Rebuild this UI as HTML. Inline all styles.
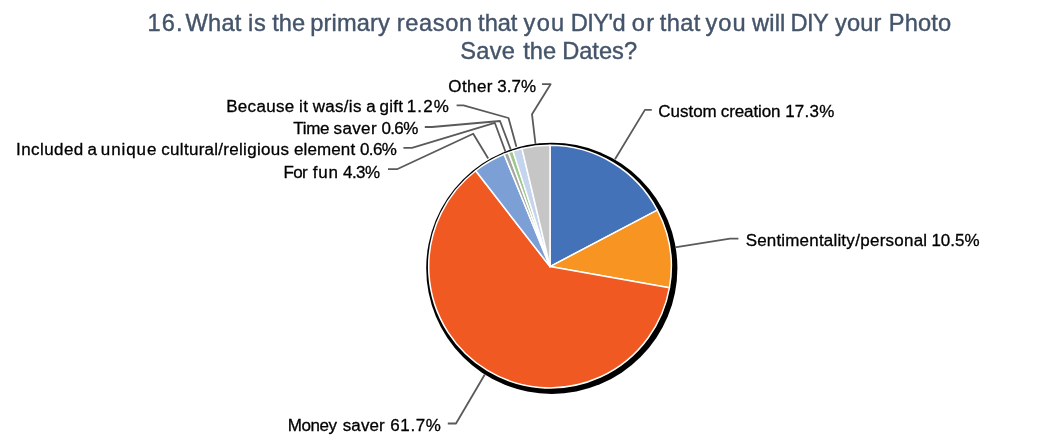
<!DOCTYPE html>
<html><head><meta charset="utf-8"><title>Chart</title>
<style>
html,body{margin:0;padding:0;background:#fff;}
body{width:1048px;height:444px;overflow:hidden;position:relative;}
svg{position:absolute;left:0;top:0;display:block;}
text{font-family:"Liberation Sans",sans-serif;}
.t{font-size:23.66px;fill:#44546a;stroke:#44546a;stroke-width:0.4px;}
.l{font-size:17px;fill:#000;stroke:#000;stroke-width:0.3px;}
.ld{fill:none;stroke:#5a5a5a;stroke-width:1.8;stroke-linejoin:round;}
</style></head><body>
<svg width="1048" height="444" viewBox="0 0 1048 444">
<rect width="1048" height="444" fill="#fff"/>
<text class="t" transform="translate(0,30.9) scale(1,1.035)"><tspan x="147.40" letter-spacing="1.200">16.</tspan> <tspan x="185.53" letter-spacing="0.215">What</tspan> <tspan x="248.12" letter-spacing="0.739">is</tspan> <tspan x="272.23" letter-spacing="0.034">the</tspan> <tspan x="310.23" letter-spacing="0.148">primary</tspan> <tspan x="396.70" letter-spacing="0.650">reason</tspan> <tspan x="478.13" letter-spacing="-0.048">that</tspan> <tspan x="523.63" letter-spacing="1.200">you</tspan> <tspan x="570.66" letter-spacing="-0.536">DIY'd</tspan> <tspan x="631.87" letter-spacing="1.114">or</tspan> <tspan x="659.73" letter-spacing="0.385">that</tspan> <tspan x="705.63" letter-spacing="0.917">you</tspan> <tspan x="751.99" letter-spacing="0.179">will</tspan> <tspan x="790.56" letter-spacing="-0.600">DIY</tspan> <tspan x="835.13" letter-spacing="0.118">your</tspan> <tspan x="888.76" letter-spacing="0.170">Photo</tspan></text>
<text class="t" transform="translate(0,59.4) scale(1,1.035)"><tspan x="460.37" letter-spacing="0.242">Save</tspan> <tspan x="523.13" letter-spacing="0.034">the</tspan> <tspan x="562.16" letter-spacing="-0.005">Dates?</tspan></text>
<circle cx="551.8" cy="268.3" r="125.6" fill="#000"/>
<path d="M550.0 266.6L550.00 145.30A121.3 121.3 0 0 1 657.32 210.07Z" fill="#4472b8" stroke="#fff" stroke-width="1.5" stroke-linejoin="round"/>
<path d="M550.0 266.6L657.32 210.07A121.3 121.3 0 0 1 669.46 287.66Z" fill="#f79422" stroke="#fff" stroke-width="1.5" stroke-linejoin="round"/>
<path d="M550.0 266.6L669.46 287.66A121.3 121.3 0 1 1 475.69 170.73Z" fill="#f05a22" stroke="#fff" stroke-width="1.5" stroke-linejoin="round"/>
<path d="M550.0 266.6L475.69 170.73A121.3 121.3 0 0 1 504.12 154.31Z" fill="#7c9fd6" stroke="#fff" stroke-width="1.5" stroke-linejoin="round"/>
<path d="M550.0 266.6L504.12 154.31A121.3 121.3 0 0 1 508.51 152.62Z" fill="#a5a5a5" stroke="#fff" stroke-width="1.5" stroke-linejoin="round"/>
<path d="M550.0 266.6L508.51 152.62A121.3 121.3 0 0 1 512.96 151.09Z" fill="#9cc88a" stroke="#fff" stroke-width="1.5" stroke-linejoin="round"/>
<path d="M550.0 266.6L512.96 151.09A121.3 121.3 0 0 1 522.03 148.57Z" fill="#c5d5ee" stroke="#fff" stroke-width="1.5" stroke-linejoin="round"/>
<path d="M550.0 266.6L522.03 148.57A121.3 121.3 0 0 1 550.00 145.30Z" fill="#c6c6c6" stroke="#fff" stroke-width="1.5" stroke-linejoin="round"/>
<polyline class="ld" points="542,84.2 550.6,84.2 532,114.3 535.5,144"/>
<polyline class="ld" points="456.6,105.4 463.5,105.4 508.5,118 516.4,146.8"/>
<polyline class="ld" points="424.8,127 432,127 500,121 510.8,149.8"/>
<polyline class="ld" points="403.4,147.9 412,147.9 494.8,122.8 505.5,151.8"/>
<polyline class="ld" points="388,169.2 397,169.2 473.2,133.8 488.2,158.5"/>
<polyline class="ld" points="615,159.2 644.9,109.9 651.8,109.9"/>
<polyline class="ld" points="675,247.3 730,238.7 738.4,238.7"/>
<polyline class="ld" points="447.8,423.5 456,423.5 484.8,374.5"/>
<text class="l" transform="translate(0,91.5) scale(1,1.015)"><tspan x="448.34" letter-spacing="0.405">Other</tspan> <tspan x="497.35" letter-spacing="0.004">3.7%</tspan></text>
<text class="l" transform="translate(0,111.8) scale(1,1.015)"><tspan x="226.20" letter-spacing="0.319">Because</tspan> <tspan x="299.04" letter-spacing="0.490">it</tspan> <tspan x="312.80" letter-spacing="0.284">was/is</tspan> <tspan x="366.14" letter-spacing="0.000">a</tspan> <tspan x="379.55" letter-spacing="0.252">gift</tspan> <tspan x="406.69" letter-spacing="1.193">1.2%</tspan></text>
<text class="l" transform="translate(0,134.2) scale(1,1.015)"><tspan x="293.31" letter-spacing="-0.333">Time</tspan> <tspan x="333.60" letter-spacing="0.358">saver</tspan> <tspan x="381.38" letter-spacing="-0.600">0.6%</tspan></text>
<text class="l" transform="translate(0,155.1) scale(1,1.015)"><tspan x="16.03" letter-spacing="0.429">Included</tspan> <tspan x="87.44" letter-spacing="0.000">a</tspan> <tspan x="100.87" letter-spacing="0.906">unique</tspan> <tspan x="161.35" letter-spacing="0.285">cultural/religious</tspan> <tspan x="294.05" letter-spacing="0.114">element</tspan> <tspan x="359.98" letter-spacing="-0.600">0.6%</tspan></text>
<text class="l" transform="translate(0,177.7) scale(1,1.015)"><tspan x="283.50" letter-spacing="-0.600">For</tspan> <tspan x="312.65" letter-spacing="0.787">fun</tspan> <tspan x="343.10" letter-spacing="-0.600">4.3%</tspan></text>
<text class="l" transform="translate(0,116.7) scale(1,1.015)"><tspan x="658.20" letter-spacing="0.013">Custom</tspan> <tspan x="720.85" letter-spacing="-0.113">creation</tspan> <tspan x="785.19" letter-spacing="0.235">17.3%</tspan></text>
<text class="l" transform="translate(0,245.6) scale(1,1.015)"><tspan x="745.64" letter-spacing="0.189">Sentimentality</tspan><tspan x="855.32" letter-spacing="0.239">/personal</tspan> <tspan x="931.39" letter-spacing="0.010">10.5%</tspan></text>
<text class="l" transform="translate(0,430.6) scale(1,1.015)"><tspan x="287.80" letter-spacing="-0.411">Money</tspan> <tspan x="342.70" letter-spacing="0.133">saver</tspan> <tspan x="390.30" letter-spacing="0.631">61.7%</tspan></text>
</svg>
</body></html>
